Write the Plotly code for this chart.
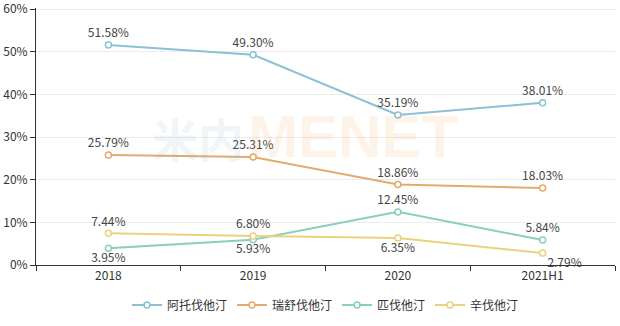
import plotly.graph_objects as go

years = ["2018", "2019", "2020", "2021H1"]
atorvastatin = [51.58, 49.30, 35.19, 38.01]
rosuvastatin = [25.79, 25.31, 18.86, 18.03]
pitavastatin = [3.95, 5.93, 12.45, 5.84]
simvastatin = [7.44, 6.80, 6.35, 2.79]

series = [
    ("阿托伐他汀", atorvastatin, "#8cc0d6", ["top center"] * 4),
    ("瑞舒伐他汀", rosuvastatin, "#e4a96f", ["top center"] * 4),
    ("匹伐他汀", pitavastatin, "#88d0b9",
     ["bottom center", "bottom center", "top center", "top center"]),
    ("辛伐他汀", simvastatin, "#ead27c",
     ["top center", "top center", "bottom center", "bottom right"]),
]

FONT = "Noto Sans CJK SC, Microsoft YaHei, sans-serif"

fig = go.Figure()
for name, vals, color, pos in series:
    fig.add_trace(go.Scatter(
        x=years, y=vals, name=name, mode="lines+markers+text",
        line=dict(color=color, width=2),
        marker=dict(symbol="circle", size=6, color="white",
                    line=dict(color=color, width=1.5)),
        text=[f"{v:.2f}%" for v in vals],
        textposition=pos,
        textfont=dict(family=FONT, size=12, color="#444"),
        cliponaxis=False,
    ))

# faint watermark behind the series
fig.add_annotation(x=0.362, y=0.5, xref="paper", yref="paper",
                   text="<b>米内</b>", showarrow=False,
                   xanchor="right", yanchor="middle",
                   font=dict(family=FONT, size=46, color="rgba(140,180,200,0.14)"))
fig.add_annotation(x=0.362, y=0.5, xref="paper", yref="paper",
                   text="<b>MENET</b>", showarrow=False,
                   xanchor="left", yanchor="middle",
                   font=dict(family="Liberation Sans", size=60, color="rgba(245,170,100,0.14)"))

fig.update_layout(
    width=620, height=326,
    margin=dict(l=36, r=5, t=8, b=61, autoexpand=False),
    paper_bgcolor="white", plot_bgcolor="white",
    font=dict(family=FONT, size=12, color="#333"),
    showlegend=True,
    legend=dict(orientation="h", x=0.5, xanchor="center",
                yref="container", y=0.02, yanchor="bottom",
                font=dict(family=FONT, size=12, color="#333"),
                itemwidth=30, traceorder="normal"),
    xaxis=dict(type="category", range=[-0.5, 3.5], tickson="boundaries",
               showline=True, linecolor="#333", linewidth=1,
               ticks="outside", ticklen=5, tickcolor="#333",
               showgrid=False, tickfont=dict(size=12, color="#333")),
    yaxis=dict(range=[0, 60.25], tickvals=[0, 10, 20, 30, 40, 50, 60],
               ticktext=["0%", "10%", "20%", "30%", "40%", "50%", "60%"],
               ticklabeloverflow="allow",
               showline=True, linecolor="#333", linewidth=1,
               ticks="outside", ticklen=5, tickcolor="#333",
               gridcolor="#ececec", zeroline=False,
               tickfont=dict(size=12, color="#333")),
)

fig.write_html("out.html")
